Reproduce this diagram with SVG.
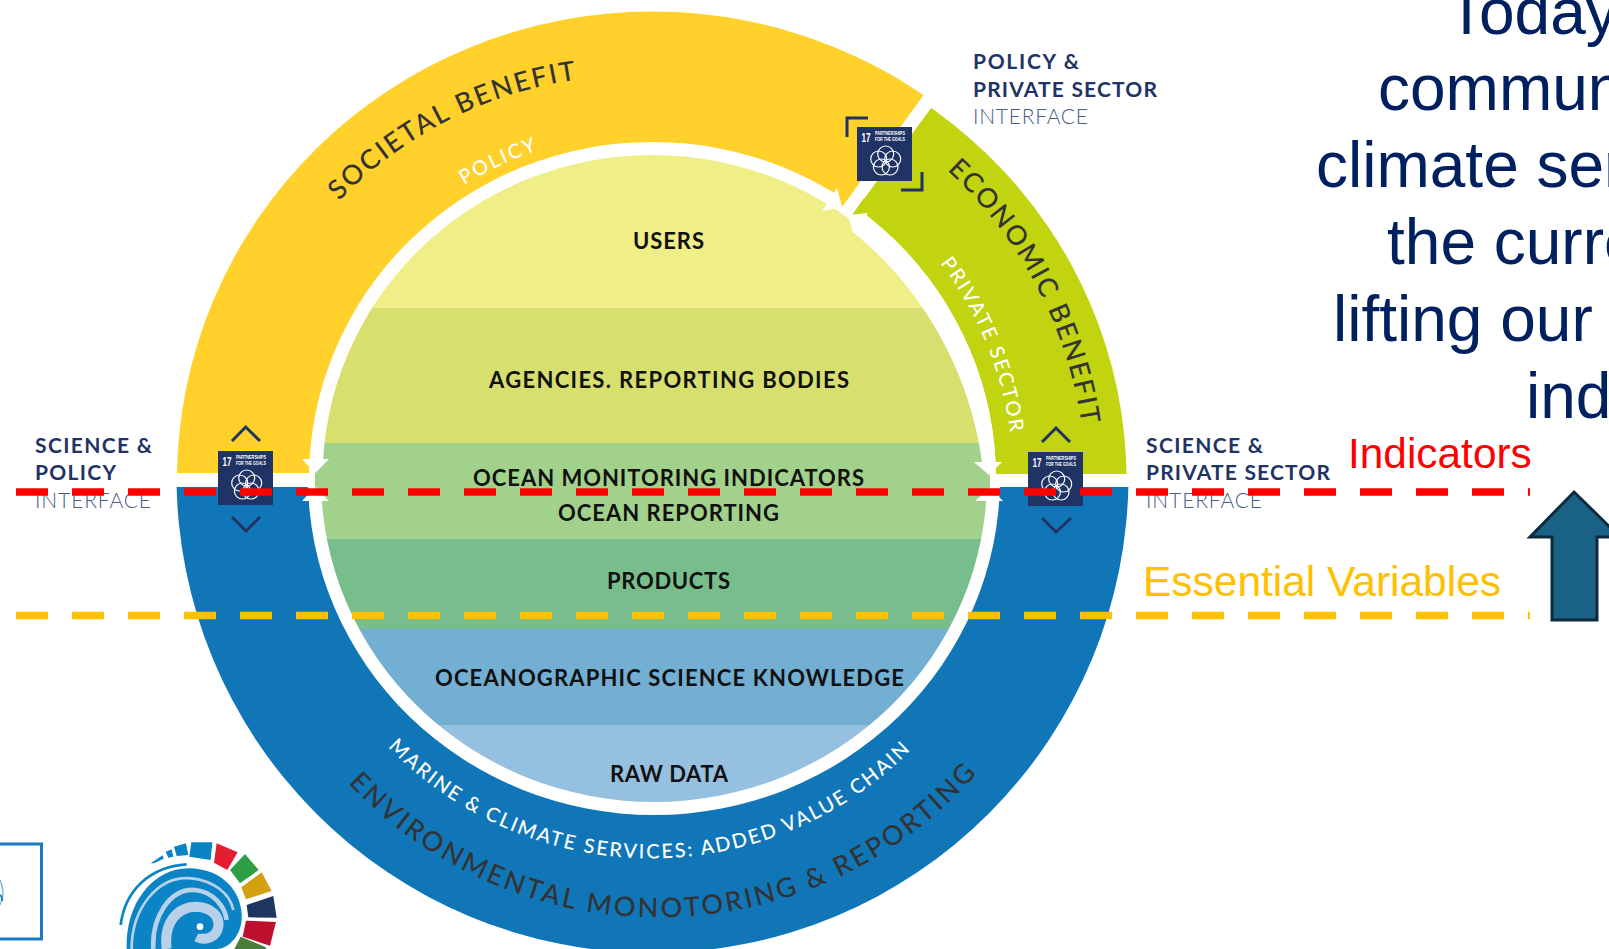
<svg xmlns="http://www.w3.org/2000/svg" xmlns:xlink="http://www.w3.org/1999/xlink" width="1609" height="949" viewBox="0 0 1609 949">
<style>
.lbl{font-family:Lato,"Liberation Sans",sans-serif;font-weight:700;font-size:22px;fill:#111}
.nav{font-family:Lato,"Liberation Sans",sans-serif;font-weight:700;font-size:21px;fill:#1F3364}
.ifc{font-family:Lato,"Liberation Sans",sans-serif;font-weight:300;font-size:21px;fill:#4A5C88}
.big{font-family:Lato,"Liberation Sans",sans-serif;font-weight:500;font-size:27px;fill:#333}
.sm{font-family:Lato,"Liberation Sans",sans-serif;font-weight:500;font-size:20px;fill:#fff}
.main{font-family:"Liberation Sans",Arial,sans-serif;font-size:64px;fill:#002060}
.key{font-family:"Liberation Sans",Arial,sans-serif;font-size:42.4px}
.chev{fill:none;stroke:#1F3364;stroke-width:3}
.dash{fill:none;stroke-width:7.5;stroke-dasharray:32 24}
.arw{fill:#fff}
</style>
<defs>
<clipPath id="cy"><polygon points="0,473 0,0 993,0 923,96 842,207 652,478 652,473"/></clipPath>
<clipPath id="cg"><polygon points="1011,0 1200,0 1200,474 652,474 852,215"/></clipPath>
<clipPath id="cb"><rect x="0" y="487" width="1609" height="462"/></clipPath>
<clipPath id="cd"><path d="M322.5,478.5 A330,323.5 0 0 1 982.5,478.5 L987,478.5 A333,323.5 0 0 1 321,478.5 Z"/></clipPath>
<clipPath id="cw"><path id="whitePath" d="M309,478.5 A343.5,336.5 0 0 1 996,478.5 L1000,478.5 A346,336.5 0 0 1 308,478.5 Z"/></clipPath>
<path id="pSoc" d="M339,201 A410,410 0 0 1 590,78"/>
<path id="pPol" d="M464,185 A375,375 0 0 1 548,147"/>
<path id="pEco" d="M947,170 A430,430 0 0 1 1084,445"/>
<path id="pPri" d="M940,263 A358,358 0 0 1 1012,450"/>
<path id="pMar" d="M388,747 A366,366 0 0 0 925,735"/>
<path id="pEnv" d="M348,783 A425,425 0 0 0 1000,745"/>
<g id="sdg">
<rect width="55" height="54" fill="#1F3364"/>
<text x="4.5" y="14.5" font-family="'Liberation Sans',sans-serif" font-weight="700" font-size="13" fill="#fff" textLength="9" lengthAdjust="spacingAndGlyphs">17</text>
<text x="18" y="7.8" font-family="'Liberation Sans',sans-serif" font-weight="700" font-size="4.6" fill="#fff" textLength="30" lengthAdjust="spacingAndGlyphs">PARTNERSHIPS</text>
<text x="18" y="13.5" font-family="'Liberation Sans',sans-serif" font-weight="700" font-size="4.6" fill="#fff" textLength="30" lengthAdjust="spacingAndGlyphs">FOR THE GOALS</text>
<g fill="none" stroke="#fff" stroke-width="1.2">
<circle cx="28.7" cy="27" r="8"/><circle cx="35.7" cy="32" r="8"/><circle cx="33" cy="40" r="8"/><circle cx="24.4" cy="40" r="8"/><circle cx="21.7" cy="32" r="8"/>
</g>
</g>
</defs>

<g id="ring-environmental"><ellipse cx="652.5" cy="476" rx="476" ry="477" fill="#1076B8" clip-path="url(#cb)"/></g>
<g id="ring-societal"><ellipse cx="652.5" cy="480" rx="475.5" ry="468.5" fill="#FFD12A" clip-path="url(#cy)"/></g>
<g id="ring-economic"><ellipse cx="652.5" cy="480" rx="474" ry="460" fill="#C2D30F" clip-path="url(#cg)"/></g>
<path d="M309,478.5 A343.5,336.5 0 0 1 996,478.5 L1000,478.5 A346,336.5 0 0 1 308,478.5 Z" fill="#fff"/>

<g id="disc" clip-path="url(#cd)">
<rect x="300" y="150" width="700" height="158" fill="#F0EE87"/>
<rect x="300" y="308" width="700" height="135" fill="#D7E06F"/>
<rect x="300" y="443" width="700" height="96" fill="#A1D18A"/>
<rect x="300" y="539" width="700" height="90" fill="#78BD8C"/>
<rect x="300" y="629" width="700" height="96" fill="#73AED3"/>
<rect x="300" y="725" width="700" height="85" fill="#96C0DF"/>
</g>
<path d="M853,232 A360,360 0 0 1 982,462 L1005,462 L1005,200 L853,200 Z" fill="#fff" clip-path="url(#cw)"/>
<polygon points="842,207 855,189 836,186" fill="#FFD12A"/>
<polygon points="852,215 864,198 870,214" fill="#C2D30F"/>
<polygon points="315,473 326,462 326,498 315,487" fill="#A1D18A"/>
<polygon points="990,475 979,462 979,498 990,488" fill="#A1D18A"/>

<g id="ring-arrows">
<polygon class="arw" points="315,473 302,459 329,459"/>
<polygon class="arw" points="315,487 302,501 329,501"/>
<polygon class="arw" points="989,475 974,462 1002,462"/>
<polygon class="arw" points="990,488 975,501 1003,501"/>
<polygon class="arw" points="842,207 837,188 822,211"/>
<polygon class="arw" points="848,215 868,213 853,233"/>
</g>

<g id="users"><text class="lbl" x="633" y="248.5" textLength="71" lengthAdjust="spacing">USERS</text></g>
<g id="agencies"><text class="lbl" x="489" y="387.5" textLength="360" lengthAdjust="spacing">AGENCIES. REPORTING BODIES</text></g>
<g id="indicators"><text class="lbl" x="473" y="486" textLength="391" lengthAdjust="spacing">OCEAN MONITORING INDICATORS</text></g>
<g id="reporting"><text class="lbl" x="558" y="520.5" textLength="221" lengthAdjust="spacing">OCEAN REPORTING</text></g>
<g id="products"><text class="lbl" x="607" y="589" textLength="123" lengthAdjust="spacing">PRODUCTS</text></g>
<g id="knowledge"><text class="lbl" x="435" y="686" textLength="469" lengthAdjust="spacing">OCEANOGRAPHIC SCIENCE KNOWLEDGE</text></g>
<g id="rawdata"><text class="lbl" x="610" y="782" textLength="118" lengthAdjust="spacing">RAW DATA</text></g>

<g id="label-societal"><text class="big" letter-spacing="2.2"><textPath xlink:href="#pSoc" href="#pSoc">SOCIETAL BENEFIT</textPath></text></g>
<g id="label-policy"><text class="sm" letter-spacing="2.2"><textPath xlink:href="#pPol" href="#pPol">POLICY</textPath></text></g>
<g id="label-economic"><text class="big" letter-spacing="2"><textPath xlink:href="#pEco" href="#pEco">ECONOMIC BENEFIT</textPath></text></g>
<g id="label-private"><text class="sm" letter-spacing="2"><textPath xlink:href="#pPri" href="#pPri">PRIVATE SECTOR</textPath></text></g>
<g id="label-marine"><text class="sm" letter-spacing="2"><textPath xlink:href="#pMar" href="#pMar">MARINE &amp; CLIMATE SERVICES: ADDED VALUE CHAIN</textPath></text></g>
<g id="label-env"><text class="big" letter-spacing="2.8"><textPath xlink:href="#pEnv" href="#pEnv">ENVIRONMENTAL MONOTORING &amp; REPORTING</textPath></text></g>

<g id="sdg-top">
<use href="#sdg" x="857" y="127"/>
<polyline class="chev" points="847,137 847,118 868,118"/>
<polyline class="chev" points="922,172 922,190 901,190"/>
</g>
<g id="sdg-left">
<use href="#sdg" x="218" y="451"/>
<polyline class="chev" points="232,441 245.7,427 260,441"/>
<polyline class="chev" points="232,517 246,531 260,517"/>
</g>
<g id="sdg-right">
<use href="#sdg" x="1028" y="452"/>
<polyline class="chev" points="1042,442 1056,428 1070,442"/>
<polyline class="chev" points="1042,518 1056,532 1071,518"/>
</g>

<g id="iface-top">
<text class="nav" x="973" y="69" textLength="106" lengthAdjust="spacing">POLICY  &amp;</text>
<text class="nav" x="973" y="97" textLength="184" lengthAdjust="spacing">PRIVATE SECTOR</text>
<text class="ifc" x="973" y="124" textLength="115" lengthAdjust="spacing">INTERFACE</text>
</g>
<g id="iface-left">
<text class="nav" x="35" y="453" textLength="117" lengthAdjust="spacing">SCIENCE &amp;</text>
<text class="nav" x="35" y="480" textLength="81" lengthAdjust="spacing">POLICY</text>
<text class="ifc" x="35" y="508" textLength="116" lengthAdjust="spacing">INTERFACE</text>
</g>
<g id="iface-right">
<text class="nav" x="1146" y="453" textLength="117" lengthAdjust="spacing">SCIENCE &amp;</text>
<text class="nav" x="1146" y="480" textLength="184" lengthAdjust="spacing">PRIVATE SECTOR</text>
<text class="ifc" x="1146" y="508" textLength="116" lengthAdjust="spacing">INTERFACE</text>
</g>

<g id="statement">
<text class="main" x="1447" y="34">Today</text>
<text class="main" x="1378" y="110">commun</text>
<text class="main" x="1316" y="187">climate ser</text>
<text class="main" x="1387" y="264">the curre</text>
<text class="main" x="1333" y="341">lifting our</text>
<text class="main" x="1526" y="418">ind</text>
</g>
<g id="key-indicators"><text class="key" x="1348" y="468" fill="#FF0000">Indicators</text></g>
<g id="key-variables"><text class="key" x="1143" y="596" fill="#FFC000" textLength="358" lengthAdjust="spacingAndGlyphs">Essential Variables</text></g>

<g id="up-arrow"><polygon points="1574,492 1620,537 1597,537 1597,620 1552,620 1552,537 1530,537" fill="#1A6285" stroke="#0D2B3E" stroke-width="3"/></g>

<g id="logo-box">
<polyline points="-3,844 41.5,844 41.5,939 -3,939" fill="none" stroke="#1A7CC0" stroke-width="3"/>
<path d="M0,880 Q6,893 0,905" fill="none" stroke="#7DB5DD" stroke-width="1.5"/>
<path d="M0,895 Q3,897 2,901" fill="none" stroke="#1A7CC0" stroke-width="2"/>
</g>
<g id="logo-swirl" transform="translate(0,810) scale(.3333)">
<polygon points="574,97 637,97 632,150 568,140" fill="#0A84C4"/>
<polygon points="650,100 713,127 682,180 642,158" fill="#E31E30"/>
<polygon points="735,132 776,180 720,220 690,180" fill="#2E9E46"/>
<polygon points="785,187 815,243 738,268 724,232" fill="#D3A012"/>
<polygon points="820,258 830,323 745,322 740,285" fill="#1D3660"/>
<polygon points="828,336 810,407 728,380 738,332" fill="#BE0F2E"/>
<polygon points="800,417 780,417 703,417 722,380 795,410" fill="#4B7C3C"/>
<polygon points="522,110 558,100 565,135 530,138" fill="#0A84C4"/>
<polygon points="497,125 515,118 520,140 505,143" fill="#0A84C4"/>
<polygon points="452,160 488,136 491,146 462,160" fill="#0A84C4"/>
<path d="M362,345 C375,240 450,170 560,163" fill="none" stroke="#0A84C4" stroke-width="8"/>
<path d="M380,417 C375,280 460,175 565,175 C670,175 730,250 725,330 C720,385 680,417 650,417 Z" fill="#0A84C4"/>
<path d="M395,417 C395,300 470,195 575,205 C640,212 690,250 700,300" fill="none" stroke="#B9D0EA" stroke-width="8"/>
<path d="M460,417 C455,320 510,235 585,240 C640,245 675,290 680,330" fill="none" stroke="#B9D0EA" stroke-width="14"/>
<path d="M500,417 C490,340 530,290 590,290 C635,292 660,320 655,350 C650,380 620,395 590,380" fill="none" stroke="#B9D0EA" stroke-width="30"/>
<circle cx="600" cy="350" r="22" fill="#0A84C4"/><circle cx="600" cy="350" r="10" fill="#fff"/>
</g>

<g id="connectors">
<path class="dash" d="M16,492 H1530" stroke="#FF0000"/>
<path class="dash" d="M16,615.5 H1530" stroke="#FFC000"/>
</g>
</svg>
